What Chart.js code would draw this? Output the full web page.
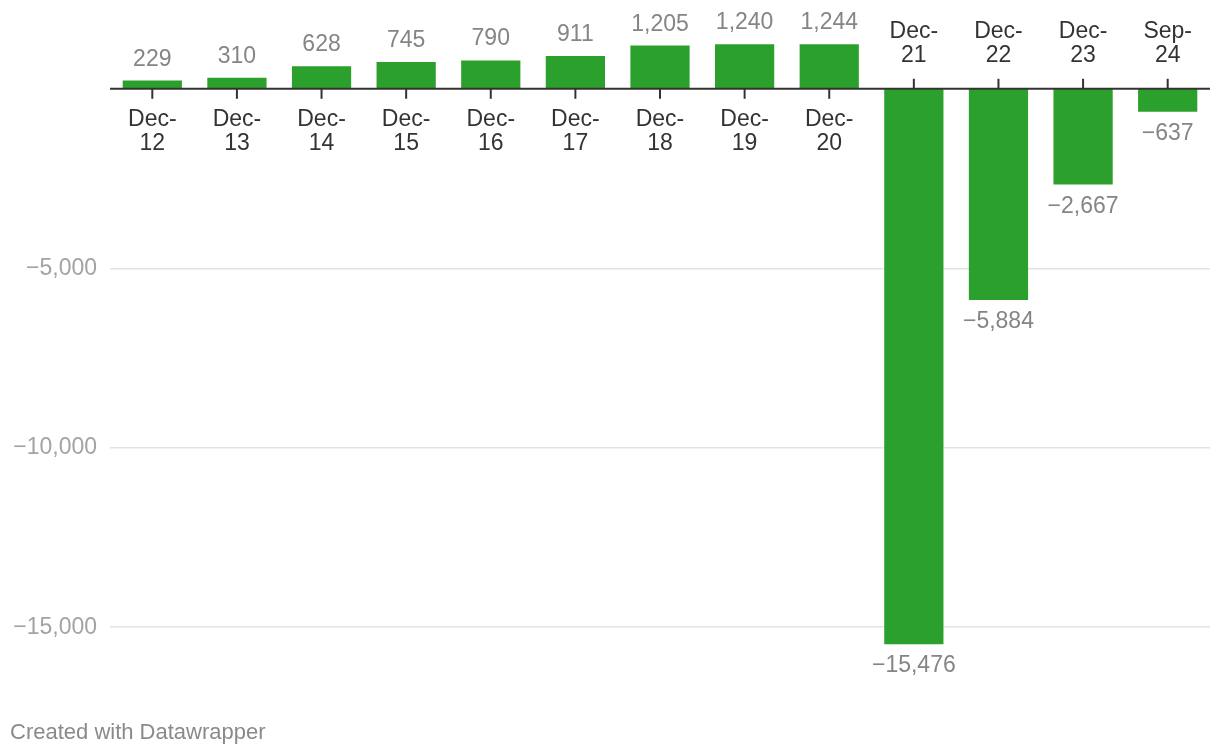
<!DOCTYPE html>
<html>
<head>
<meta charset="utf-8">
<script src="https://cdn.jsdelivr.net/npm/chart.js@4.4.1/dist/chart.umd.min.js"></script>
<style>
  html, body { margin: 0; padding: 0; background: #fff; }
  #wrap { position: relative; width: 1220px; height: 756px; }
  #footer { position: absolute; left: 10px; top: 719px; font: 22px "Liberation Sans", Arial, sans-serif; color: #8a8a8a; }
</style>
</head>
<body>
<div id="wrap">
  <canvas id="chart" width="1220" height="756"></canvas>
  <div id="footer">Created with Datawrapper</div>
</div>
<script>
// data
const months = ["Dec-12", "Dec-13", "Dec-14", "Dec-15", "Dec-16", "Dec-17", "Dec-18", "Dec-19", "Dec-20", "Dec-21", "Dec-22", "Dec-23", "Sep-24"];
const values = [229, 310, 628, 745, 790, 911, 1205, 1240, 1244, -15476, -5884, -2667, -637];
const yTicks = [-15000, -10000, -5000];

const FONT = '"Liberation Sans", Arial, sans-serif';

//format numbers like the original: comma thousands and a real minus sign
function fmt(v) {
    return (v < 0 ? '\u2212' : '') + Math.abs(v).toLocaleString('en-US');
}

// draws zero line, small ticks, month labels and value labels
const labelPlugin = {
    id: 'labels',
    afterDatasetsDraw(chart) {
        const ctx = chart.ctx;
        const x = chart.scales.x;
        const y = chart.scales.y;
        const area = chart.chartArea;
        const zero = y.getPixelForValue(0);

        ctx.save();
        ctx.strokeStyle = '#333';
        ctx.lineWidth = 2;
        ctx.beginPath();
        ctx.moveTo(area.left, zero);
        ctx.lineTo(area.right, zero);
        ctx.stroke();

        const bars = chart.getDatasetMeta(0).data;
        ctx.font = '23px ' + FONT;
        ctx.textAlign = 'center';
        ctx.textBaseline = 'alphabetic';

        months.forEach((m, i) => {
            const cx = x.getPixelForValue(i);
            const v = values[i];
            const parts = m.split('-');
            const barEnd = bars[i].y;

            // small tick on the zero line
            ctx.beginPath();
            ctx.moveTo(cx, zero);
            ctx.lineTo(cx, v >= 0 ? zero + 10 : zero - 10);
            ctx.stroke();

            // month label on the opposite side of the bar
            ctx.fillStyle = '#333';
            if (v >= 0) {
                ctx.fillText(parts[0] + '-', cx, zero + 37);
                ctx.fillText(parts[1], cx, zero + 61);
            } else {
                ctx.fillText(parts[0] + '-', cx, zero - 51);
                ctx.fillText(parts[1], cx, zero - 27);
            }

            // value label
            ctx.fillStyle = '#858585';
            ctx.fillText(fmt(v), cx, v >= 0 ? barEnd - 15 : barEnd + 28);
        });
        ctx.restore();
    }
};

new Chart(document.getElementById('chart'), {
    type: 'bar',
    data: {
        labels: months,
        datasets: [{
            data: values,
            backgroundColor: '#2ca02c',
            barPercentage: 0.7,
            categoryPercentage: 1.0
        }]
    },
    options: {
        responsive: false,
        animation: false,
        layout: { padding: { top: 17, bottom: 57, left: 0, right: 10 } },
        plugins: { legend: { display: false }, tooltip: { enabled: false } },
        scales: {
            x: { display: false },
            y: {
                min: -17000,
                max: 2000,
                border: { display: false },
                afterBuildTicks: (scale) => { scale.ticks = yTicks.map(v => ({ value: v })); },
                afterFit: (scale) => {
                    scale.width = 110;
                    scale.paddingTop = 0; //ticks are not at the ends, so no label padding needed
                    scale.paddingBottom = 0;
                },
                grid: { color: '#e3e3e3', lineWidth: 1.5, drawTicks: false },
                ticks: {
                    padding: 13,
                    color: '#a3a3a3',
                    font: { family: FONT, size: 23 },
                    callback: (v) => fmt(v)
                }
            }
        }
    },
    plugins: [labelPlugin]
});
</script>
</body>
</html>
